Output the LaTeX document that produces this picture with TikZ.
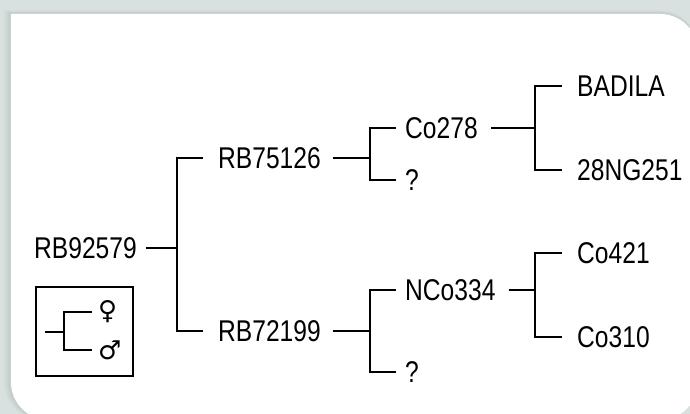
\documentclass[tikz,border=0pt]{standalone}
\usepackage{fontspec}
\newfontfamily\cvfont{Liberation Sans}[FakeStretch=0.82]
\newfontfamily\symfont{DejaVu Sans}
\usetikzlibrary{positioning,calc}
\definecolor{pagebg}{RGB}{216,225,223}
\definecolor{panelshade}{RGB}{170,184,181}

\begin{document}
\begin{tikzpicture}[x=1pt,y=-1pt,
cultivar/.style={font=\cvfont\fontsize{30}{32}\selectfont,anchor=west,inner sep=0pt},
sexsym/.style={font=\symfont\fontsize{26}{28}\selectfont,anchor=west,inner sep=0pt},
link/.style={line width=2.4pt},
legendbox/.style={draw,line width=1.9pt,minimum width=97pt,minimum height=89pt,inner sep=0pt}]
% page and panel
\fill[pagebg] (0,0) rectangle (690,414);
\useasboundingbox (0,0) rectangle (690,414);
\clip (0,0) rectangle (690,414);
\foreach \d/\o in {7/.12,5/.15,3/.2}{
  \fill[panelshade,opacity=\o,rounded corners=38pt] (11-\d,14-\d/2) rectangle (698,420)
    {[sharp corners] (11-\d,14-\d/2) rectangle (80,80)};
}
\fill[white,rounded corners=38pt] (11,14) rectangle (698,420)
  {[sharp corners] (11,14) rectangle (80,80)};

% pedigree
\node[cultivar] (rb92579) at (34,248) {RB92579};
\node[cultivar] (rb75126) at (218,158) {RB75126};
\node[cultivar] (rb72199) at (218,331) {RB72199};
\node[cultivar] (co278) at (405,128) {Co278};
\node[cultivar] (unkA) at (405,180) {?};
\node[cultivar] (nco334) at (405,290) {NCo334};
\node[cultivar] (unkB) at (405,372) {?};
\node[cultivar] (badila) at (577,86) {BADILA};
\node[cultivar] (ng251) at (577,170) {28NG251};
\node[cultivar] (co421) at (577,253) {Co421};
\node[cultivar] (co310) at (577,337) {Co310};
\coordinate (b1) at (177,0);
\coordinate (b2) at (370,0);
\coordinate (b3) at (535,0);
\draw[link] ([xshift=9pt]rb92579.east) -- (rb92579 -| b1) |- ([xshift=-15pt]rb75126.west);
\draw[link] (rb92579 -| b1) |- ([xshift=-15pt]rb72199.west);
\draw[link] ([xshift=12pt]rb75126.east) -- (rb75126 -| b2) |- ([xshift=-9pt]co278.west);
\draw[link] (rb75126 -| b2) |- ([xshift=-9pt]unkA.west);
\draw[link] ([xshift=12pt]rb72199.east) -- (rb72199 -| b2) |- ([xshift=-9pt]nco334.west);
\draw[link] (rb72199 -| b2) |- ([xshift=-9pt]unkB.west);
\draw[link] ([xshift=13pt]co278.east) -- (co278 -| b3) |- ([xshift=-15pt]badila.west);
\draw[link] (co278 -| b3) |- ([xshift=-15pt]ng251.west);
\draw[link] ([xshift=13pt]nco334.east) -- (nco334 -| b3) |- ([xshift=-15pt]co421.west);
\draw[link] (nco334 -| b3) |- ([xshift=-15pt]co310.west);

% legend
\node[legendbox] (legend) at (84.5,331.5) {};
\node[sexsym] (female) at (98,312) {♀};
\node[sexsym] (male) at (98,350) {♂};
\coordinate (legroot) at (45,332);
\coordinate (b0) at (64,0);
\draw[link] (legroot) -- (legroot -| b0) |- ([xshift=-6pt]female.west);
\draw[link] (legroot -| b0) |- ([xshift=-6pt]male.west);
\end{tikzpicture}
\end{document}
